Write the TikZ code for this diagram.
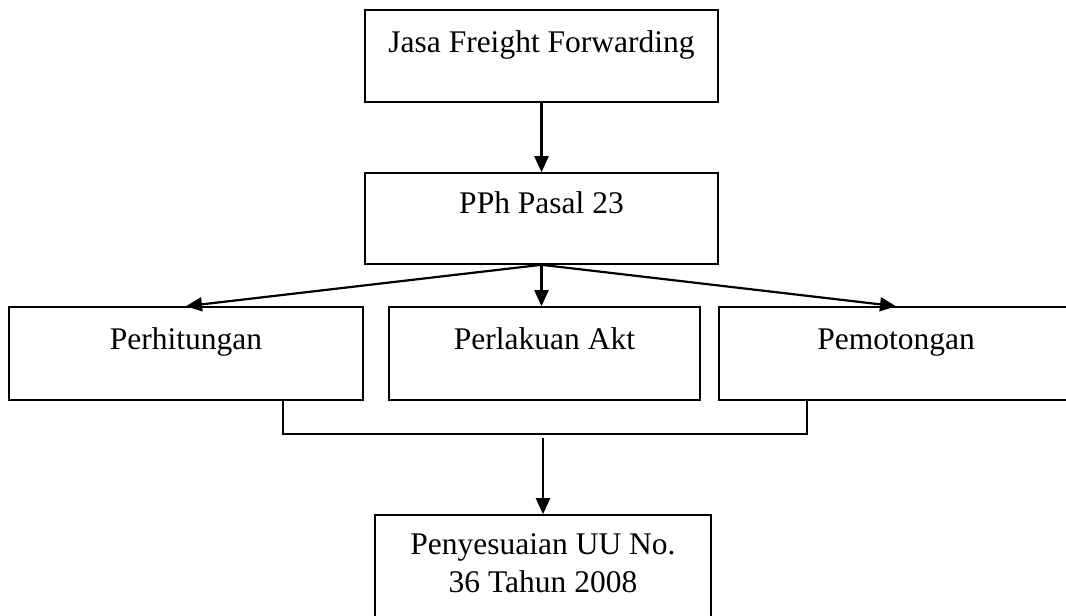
\documentclass[tikz,border=0pt]{standalone}
\usepackage{fontspec}
\setmainfont{Liberation Serif}
\usetikzlibrary{arrows.meta}

\begin{document}
\begin{tikzpicture}[x=1pt,y=-1pt,
  box/.style={draw, line width=1.6pt, inner sep=0pt, align=center,
    font=\fontsize{31.5}{38}\selectfont},
  arr/.style={line width=2.2pt, -{Triangle[length=16pt,width=14pt]}}]
  \useasboundingbox (0,0) rectangle (1066,616);

  % Draw the boxes
  \node[box, minimum width=353pt, minimum height=92pt, text height=42pt, text depth=50pt] (jasa) at (541.5,56) {Jasa Freight Forwarding};
  \node[box, minimum width=353pt, minimum height=91pt, text height=40pt, text depth=51pt] (pph) at (541.5,218.5) {PPh Pasal 23};
  \node[box, minimum width=354pt, minimum height=93pt, text height=42pt, text depth=51pt] (hitung) at (186,353.5) {Perhitungan};
  \node[box, minimum width=311pt, minimum height=93pt, text height=42pt, text depth=51pt] (akt) at (544.5,353.5) {Perlakuan Akt};
  \node[box, minimum width=354pt, minimum height=93pt, text height=42pt, text depth=51pt] (potong) at (896,353.5) {Pemotongan};
  \node[box, minimum width=336pt, minimum height=110pt, text height=77pt, text depth=33pt] (uu) at (543,570) {Penyesuaian UU No.\\36 Tahun 2008};

  % Arrows
  \draw[arr] (jasa.south) -- (pph.north);
  \draw[arr] (pph.south) -- (hitung.north);
  \draw[arr] (pph.south) -- (pph.south |- akt.north);
  \draw[arr] (pph.south) -- (potong.north);

  % Join the three boxes
  \coordinate (kiri) at (283,434);
  \coordinate (kanan) at (807,434);
  \coordinate (tengah) at (543,438);
  \draw[line width=1.6pt] (hitung.south -| kiri) -- (kiri) -- (kanan) -- (potong.south -| kanan);
  \draw[arr] (tengah) -- (uu.north);
\end{tikzpicture}
\end{document}
